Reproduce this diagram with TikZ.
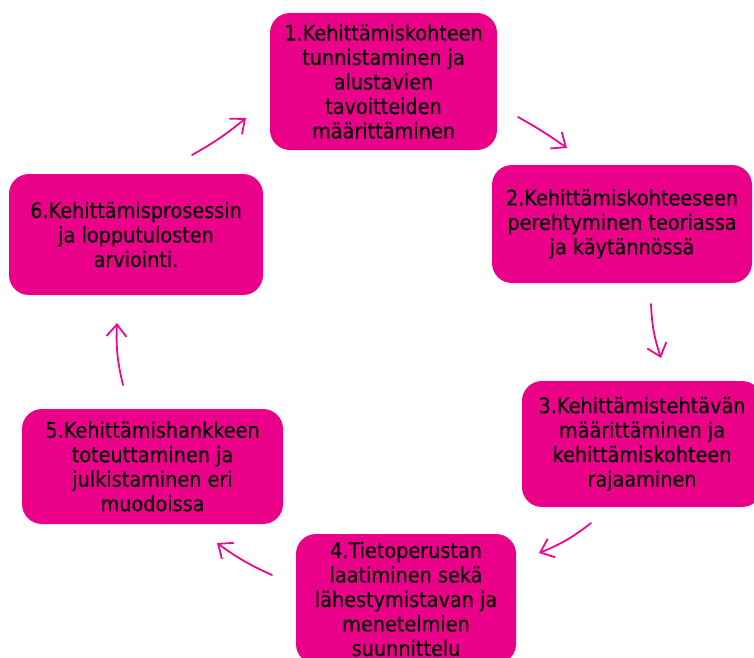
\documentclass[tikz,border=0pt]{standalone}
\usepackage{fontspec}
\setmainfont{DejaVu Sans}[FakeStretch=0.9, FakeBold=0.3]
\usetikzlibrary{arrows.meta}
\definecolor{pinkfill}{RGB}{234,0,137}
\definecolor{arrowpink}{RGB}{236,10,140}
\tikzset{
  stepbox/.style={rectangle, rounded corners=20pt, fill=pinkfill, draw=none,
    inner sep=0pt, align=center, text=black,
    font=\fontsize{21.4pt}{24.5pt}\selectfont},
  cyclearrow/.style={draw=arrowpink, line width=1.8pt, line cap=round,
    -{Straight Barb[length=12pt, width=20pt, line width=1.8pt]}}
}
\begin{document}
\begin{tikzpicture}[x=1pt, y=-1pt]
\useasboundingbox (0,0) rectangle (754,657);
\clip (0,0) rectangle (754,657);
\node[stepbox, minimum width=227pt, minimum height=137pt] (b1) at (383.5,81.5)
  {1.Kehittämiskohteen\\tunnistaminen ja\\alustavien\\tavoitteiden\\määrittäminen};
\node[stepbox, minimum width=260pt, minimum height=118pt] (b2) at (622,224)
  {2.Kehittämiskohteeseen\\perehtyminen teoriassa\\ja käytännössä};
\node[stepbox, minimum width=240pt, minimum height=126pt] (b3) at (642,444)
  {3.Kehittämistehtävän\\määrittäminen ja\\kehittämiskohteen\\rajaaminen};
\node[stepbox, minimum width=220pt, minimum height=130pt] (b4) at (406,599)
  {4.Tietoperustan\\laatiminen sekä\\lähestymistavan ja\\menetelmien\\suunnittelu};
\node[stepbox, minimum width=261pt, minimum height=115pt] (b5) at (152.5,466.5)
  {5.Kehittämishankkeen\\toteuttaminen ja\\julkistaminen eri\\muodoissa};
\node[stepbox, minimum width=254pt, minimum height=121pt] (b6) at (136,234.5)
  {6.Kehittämisprosessin\\ja lopputulosten\\arviointi.};

\coordinate (a1s) at (518,117);
\coordinate (a1e) at (567,148);
\coordinate (a2s) at (651,304);
\coordinate (a2e) at (661,358);
\coordinate (a3s) at (591,523);
\coordinate (a3e) at (539,553);
\coordinate (a4s) at (272,575);
\coordinate (a4e) at (217,543);
\coordinate (a5s) at (123,385);
\coordinate (a5e) at (117,323);
\coordinate (a6s) at (192,155);
\coordinate (a6e) at (246,118);

\draw[cyclearrow] (a1s) to[bend left=3] (a1e);
\draw[cyclearrow] (a2s) to[bend right=8] (a2e);
\draw[cyclearrow] (a3s) to[bend left=8] (a3e);
\draw[cyclearrow] (a4s) to[bend left=6] (a4e);
\draw[cyclearrow] (a5s) to[bend left=8] (a5e);
\draw[cyclearrow] (a6s) to[bend right=5] (a6e);
\end{tikzpicture}
\end{document}
